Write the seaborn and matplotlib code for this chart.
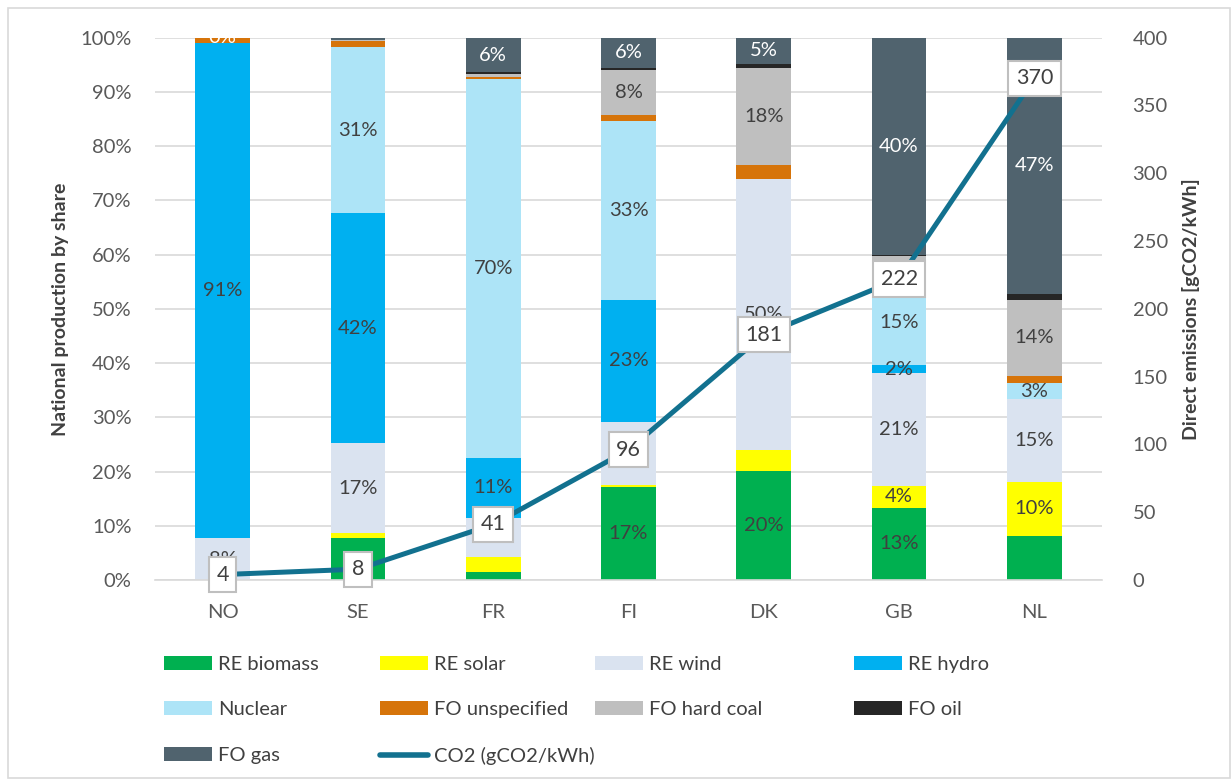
import matplotlib

matplotlib.use("Agg")

import matplotlib.pyplot as plt
import numpy as np
import pandas as pd
import seaborn as sns
from matplotlib.lines import Line2D
from matplotlib.patches import Patch, Rectangle

countries = ["NO", "SE", "FR", "FI", "DK", "GB", "NL"]

# national production shares (%)
re_biomass = [0.0, 7.8, 1.5, 17.1, 20.1, 13.3, 8.2]
re_solar = [0.0, 0.8, 2.8, 0.5, 3.8, 4.1, 9.8]
re_wind = [7.7, 16.6, 7.2, 11.5, 50.1, 20.7, 15.3]
re_hydro = [91.4, 42.4, 11.0, 22.6, 0.0, 1.6, 0.0]
nuclear = [0.0, 30.7, 69.8, 33.0, 0.0, 15.4, 3.1]
fo_unspecified = [0.9, 1.0, 0.4, 1.1, 2.6, 1.0, 1.2]
fo_hard_coal = [0.0, 0.2, 0.6, 8.2, 17.9, 3.6, 14.1]
fo_oil = [0.0, 0.0, 0.3, 0.4, 0.6, 0.3, 1.1]
fo_gas = [0.0, 0.5, 6.4, 5.6, 4.9, 40.0, 47.2]

co2 = [4, 8, 41, 96, 181, 222, 370]

series_names = ["RE biomass", "RE solar", "RE wind", "RE hydro", "Nuclear",
                "FO unspecified", "FO hard coal", "FO oil", "FO gas"]
series_values = [re_biomass, re_solar, re_wind, re_hydro, nuclear,
                 fo_unspecified, fo_hard_coal, fo_oil, fo_gas]

# countries whose segment carries a data label
labelled = {
    "RE biomass": ["FI", "DK", "GB"],
    "RE solar": ["GB", "NL"],
    "RE wind": ["NO", "SE", "FR", "FI", "DK", "GB", "NL"],
    "RE hydro": ["NO", "SE", "FR", "FI", "GB"],
    "Nuclear": ["SE", "FR", "FI", "GB", "NL"],
    "FO hard coal": ["FI", "DK", "NL"],
    "FO gas": ["NO", "FR", "FI", "DK", "GB", "NL"],
}

colors = {
    "RE biomass": "#00B050",
    "RE solar": "#FFFF00",
    "RE wind": "#DAE3F0",
    "RE hydro": "#00B0F0",
    "Nuclear": "#ADE4F7",
    "FO unspecified": "#D6740A",
    "FO hard coal": "#BFBFBF",
    "FO oil": "#262626",
    "FO gas": "#50636E",
}
line_color = "#12718F"
text_color = "#404040"

sns.set_theme(style="white")
plt.rcParams["font.family"] = ["Lato", "DejaVu Sans"]

fig = plt.figure(figsize=(12.32, 7.82), dpi=100)
ax = fig.add_axes([155 / 1232, 1 - 580 / 782, (1102 - 155) / 1232, (580 - 37.7) / 782])

x = np.arange(len(countries))
bottom = np.zeros(len(countries))
for name, vals in zip(series_names, series_values):
    vals = np.array(vals)
    ax.bar(x, vals, bottom=bottom, width=0.405, color=colors[name], linewidth=0, zorder=2)
    if name in labelled:
        for i, c in enumerate(countries):
            if c in labelled[name]:
                ax.text(x[i], bottom[i] + vals[i] / 2, f"{vals[i]:.0f}%",
                        ha="center", va="center", fontsize=14.5,
                        color="white" if name == "FO gas" else text_color,
                        zorder=3, clip_on=True)
    bottom += vals

ax.set_xlim(-0.5, len(countries) - 0.5)
ax.set_ylim(0, 100)
ax.set_yticks(np.arange(0, 101, 10))
ax.set_yticklabels([f"{t}%" for t in range(0, 101, 10)])
ax.set_xticks(x)
ax.set_xticklabels(countries)
ax.yaxis.grid(True, color="#D9D9D9", linewidth=1.2)
ax.set_axisbelow(True)
for side in ["left", "right", "top"]:
    ax.spines[side].set_visible(False)
ax.spines["bottom"].set_color("#D9D9D9")
ax.spines["bottom"].set_linewidth(1.2)
ax.tick_params(axis="both", length=0, labelsize=14.5, labelcolor="#595959")
ax.tick_params(axis="y", pad=17)
ax.tick_params(axis="x", pad=17)
ax.set_ylabel("National production by share", fontsize=14, fontweight="bold",
              color=text_color, labelpad=8)

ax2 = ax.twinx()
df = pd.DataFrame({"x": x, "co2": co2})
sns.lineplot(data=df, x="x", y="co2", ax=ax2, color=line_color, linewidth=3.6,
             solid_capstyle="round", zorder=4)
for xi, v in zip(x, co2):
    ax2.text(xi, v, f"{v}", ha="center", va="center", fontsize=15.5, color=text_color, zorder=5,
             bbox=dict(boxstyle="square,pad=0.35", facecolor="white", edgecolor="#BFBFBF", linewidth=1.5))
ax2.set_ylim(0, 400)
ax2.set_yticks(np.arange(0, 401, 50))
for side in ["left", "right", "top", "bottom"]:
    ax2.spines[side].set_visible(False)
ax2.tick_params(axis="y", length=0, labelsize=14.5, labelcolor="#595959", pad=22)
ax2.set_xlabel("")
ax2.set_ylabel("Direct emissions [gCO2/kWh]", fontsize=14, fontweight="bold",
               color=text_color, labelpad=10)
ax2.grid(False)

# legend laid out in four columns like the original
handles = {n: Patch(facecolor=colors[n], edgecolor="none") for n in series_names}
handles["CO2 (gCO2/kWh)"] = Line2D([], [], color=line_color, linewidth=4, solid_capstyle="round")
columns = [
    (164, ["RE biomass", "Nuclear", "FO gas"]),
    (380, ["RE solar", "FO unspecified", "CO2 (gCO2/kWh)"]),
    (595, ["RE wind", "FO hard coal"]),
    (854, ["RE hydro", "FO oil"]),
]
for x_px, names in columns:
    fig.legend([handles[n] for n in names], names, loc="upper left",
               bbox_to_anchor=(x_px / 1232, 1 - 656 / 782), frameon=False, borderpad=0,
               fontsize=14.5, labelcolor=text_color, handlelength=2.4, handleheight=0.7,
               handletextpad=0.3, labelspacing=1.4, borderaxespad=0)

fig.patches.append(Rectangle((8 / 1232, 4 / 782), 1222 / 1232, 770 / 782, transform=fig.transFigure,
                             fill=False, edgecolor="#D9D9D9", linewidth=1.2))

fig.savefig("out.png", dpi=100)
plt.close(fig)
